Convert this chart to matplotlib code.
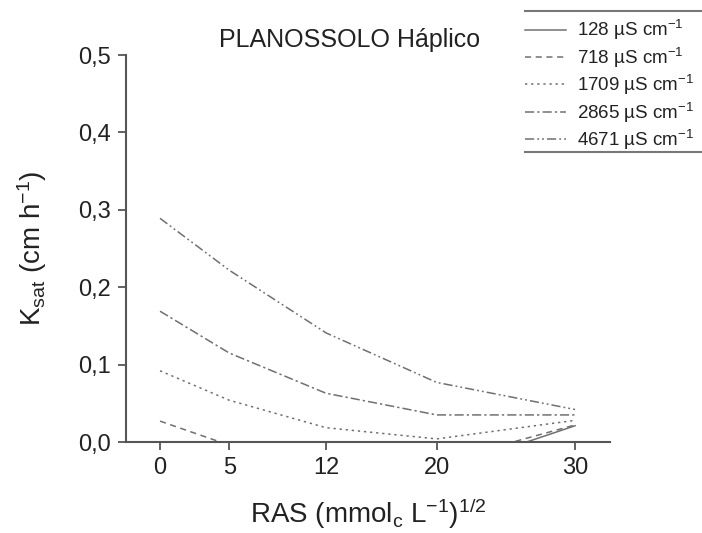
import numpy as np
import matplotlib
matplotlib.use('Agg')
import matplotlib.pyplot as plt
from matplotlib.lines import Line2D

plt.rcParams['font.family'] = ['Liberation Sans', 'DejaVu Sans']
plt.rcParams['mathtext.fontset'] = 'custom'
plt.rcParams['mathtext.rm'] = 'Liberation Sans'
plt.rcParams['mathtext.it'] = 'Liberation Sans'

# RAS values (x) and Ksat curves for each electrical conductivity
ras = [0, 5, 12, 20, 30]
k128 = [-0.020, -0.040, -0.050, -0.039, 0.021]
k718 = [0.027, -0.004, -0.025, -0.027, 0.022]
k1709 = [0.092, 0.054, 0.0185, 0.004, 0.028]
k2865 = [0.169, 0.115, 0.063, 0.035, 0.035]
k4671 = [0.289, 0.222, 0.141, 0.077, 0.042]

series_labels = ['128 µS cm$^{-1}$', '718 µS cm$^{-1}$', '1709 µS cm$^{-1}$',
                 '2865 µS cm$^{-1}$', '4671 µS cm$^{-1}$']
xtick_vals = [0, 5, 12, 20, 30]
ytick_vals = [0.0, 0.1, 0.2, 0.3, 0.4, 0.5]
ytick_labels = ['0,0', '0,1', '0,2', '0,3', '0,4', '0,5']

styles = ['-', (0, (4, 3)), (0, (1.5, 2.5)), (0, (6, 2, 1.5, 2)), (0, (6, 2, 1.2, 2, 1.2, 2))]
lc = '#707070'

fig = plt.figure(figsize=(7.02, 5.33), dpi=100)
ax = fig.add_axes([0.1795, 0.1707, 0.6895, 0.7261])

for ys, ls, lab in zip([k128, k718, k1709, k2865, k4671], styles, series_labels):
    ax.plot(ras, ys, linestyle=ls, color=lc, lw=1.1, label=lab)

ax.set_xlim(-2.46, 32.53)
ax.set_ylim(0, 0.5)
ax.set_xticks(xtick_vals)
ax.set_yticks(ytick_vals)
ax.set_yticklabels(ytick_labels)
for s in ['top', 'right']:
    ax.spines[s].set_visible(False)
for s in ['left', 'bottom']:
    ax.spines[s].set_color('#555555')
    ax.spines[s].set_linewidth(1.5)
ax.tick_params(direction='out', length=6, width=1.3, color='#555555',
               labelsize=17, labelcolor='#222222', pad=5)

ax.set_xlabel('RAS (mmol$_\\mathregular{c}$ L$^{-1}$)$^{1/2}$', fontsize=20, color='#222222')
ax.xaxis.set_label_coords(0.5, -0.14)
ax.set_ylabel('K$_{\\mathregular{sat}}$ (cm h$^{-1}$)', fontsize=20, color='#222222')
ax.yaxis.set_label_coords(-0.16, 0.5)

fig.text(350 / 702, 1 - 40 / 533, 'PLANOSSOLO Háplico', ha='center', va='center',
         fontsize=18, color='#222222')

leg = fig.legend(loc='upper left', bbox_to_anchor=(525 / 702, 1 - 18 / 533),
                 frameon=False, fontsize=13.5, handlelength=2.2, handletextpad=0.55,
                 labelspacing=0.18, borderpad=0, borderaxespad=0)
for t in leg.get_texts():
    t.set_color('#222222')
fig.add_artist(Line2D([525 / 702, 1.0], [1 - 11 / 533] * 2, color='#777777', lw=1.5))
fig.add_artist(Line2D([525 / 702, 1.0], [1 - 152 / 533] * 2, color='#777777', lw=1.5))

fig.savefig('out.png', dpi=100)
